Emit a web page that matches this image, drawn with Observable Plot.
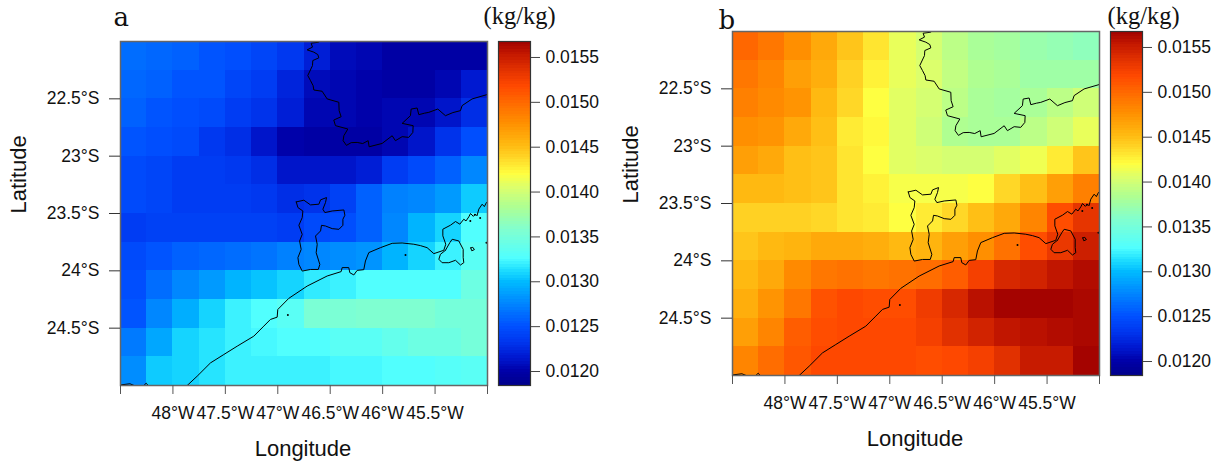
<!DOCTYPE html>
<html><head><meta charset="utf-8">
<script src="https://cdn.jsdelivr.net/npm/d3@7"></script>
<script src="https://cdn.jsdelivr.net/npm/@observablehq/plot@0.6"></script>
<style>
html,body{margin:0;padding:0;background:#fff;width:1224px;height:465px;overflow:hidden}
#root{position:relative;width:1224px;height:465px}
#root svg{position:absolute;overflow:visible;background:transparent}
</style></head><body><div id="root"></div>
<script>
// grid: 14 columns (west to east), 12 rows (north to south), 0.25 degree cells; values in 1e-5 kg/kg
const lons = [-48.5,-48.25,-48,-47.75,-47.5,-47.25,-47,-46.75,-46.5,-46.25,-46,-45.75,-45.5,-45.25];
const lats = [-22,-22.25,-22.5,-22.75,-23,-23.25,-23.5,-23.75,-24,-24.25,-24.5,-24.75];
const panelA = [
 [1265,1262,1258,1253,1250,1242,1234,1220,1208,1204,1197,1197,1197,1199],
 [1260,1257,1253,1253,1242,1236,1222,1208,1203,1200,1198,1198,1203,1215],
 [1257,1253,1250,1246,1236,1231,1219,1204,1204,1202,1204,1204,1213,1228],
 [1253,1250,1246,1234,1228,1213,1202,1197,1197,1199,1203,1213,1231,1250],
 [1246,1242,1238,1236,1234,1228,1214,1214,1214,1219,1236,1247,1257,1277],
 [1246,1242,1238,1238,1236,1233,1229,1232,1240,1258,1273,1277,1286,1306],
 [1236,1240,1240,1240,1240,1240,1238,1246,1250,1258,1277,1296,1310,1328],
 [1247,1253,1258,1260,1265,1268,1273,1277,1280,1283,1296,1310,1322,1333],
 [1250,1265,1277,1286,1298,1304,1310,1318,1322,1326,1328,1328,1328,1345],
 [1253,1277,1293,1310,1320,1328,1332,1355,1355,1357,1358,1357,1350,1352],
 [1270,1290,1308,1314,1320,1323,1328,1328,1334,1334,1338,1344,1345,1350],
 [1280,1305,1310,1316,1320,1320,1321,1321,1323,1324,1326,1328,1330,1334]
];
const panelB = [
 [1499,1490,1476,1460,1445,1433,1412,1402,1390,1380,1378,1372,1370,1365],
 [1492,1482,1466,1458,1441,1425,1410,1404,1394,1384,1381,1376,1376,1374],
 [1486,1480,1472,1453,1437,1420,1407,1402,1390,1381,1378,1382,1390,1398],
 [1476,1472,1460,1450,1428,1423,1407,1399,1384,1381,1381,1390,1400,1412],
 [1466,1462,1450,1445,1432,1420,1408,1404,1403,1401,1407,1414,1428,1445],
 [1453,1452,1449,1445,1433,1425,1416,1418,1418,1420,1437,1449,1466,1486],
 [1441,1441,1441,1437,1433,1428,1421,1428,1437,1450,1462,1482,1514,1534],
 [1445,1453,1456,1460,1460,1457,1453,1456,1466,1476,1495,1514,1530,1548],
 [1453,1460,1480,1490,1494,1492,1494,1496,1505,1525,1541,1545,1555,1560],
 [1457,1474,1492,1513,1518,1516,1514,1528,1541,1556,1566,1568,1565,1564],
 [1466,1482,1505,1514,1518,1518,1517,1525,1536,1544,1554,1556,1560,1564],
 [1482,1496,1510,1518,1518,1518,1518,1516,1519,1525,1537,1550,1552,1566]
];
const colorDomain = [0.011844,0.015678];
const colorStops = [.01184,.01200,.01215,.01234,.01250,.01280,.01300,.01313,.01326,.01357,.01384,.01403,.01420,.01437,.01453,.01476,.01499,.01518,.01537,.01553,.01568];
const colorList = ["#00008B","#0000A8","#0018D0","#0038F0","#0050FF","#0090FF","#00BBFF","#20E0FF","#50FFFF","#80FFD0","#B0FF90","#D8FF70","#FFFF40","#FFD828","#FFB810","#FF9000","#FF6A00","#FF4800","#E03000","#C41800","#A00000"];
const barTicks = [.012,.0125,.013,.0135,.014,.0145,.015,.0155];
const lonTicks = [-48.5,-48,-47.5,-47,-46.5,-46,-45.5,-45];
const latTicks = [-22.5,-23,-23.5,-24,-24.5];

const stateLine = [[-46.609,-22],[-46.609,-22.006],[-46.682,-22.015],[-46.669,-22.049],[-46.720,-22.073],[-46.656,-22.093],[-46.618,-22.114],[-46.609,-22.143],[-46.666,-22.166],[-46.669,-22.210],[-46.714,-22.297],[-46.688,-22.341],[-46.663,-22.385],[-46.656,-22.423],[-46.577,-22.434],[-46.529,-22.501],[-46.418,-22.530],[-46.415,-22.603],[-46.396,-22.656],[-46.466,-22.685],[-46.450,-22.734],[-46.332,-22.763],[-46.370,-22.822],[-46.377,-22.865],[-46.345,-22.906],[-46.300,-22.882],[-46.243,-22.880],[-46.190,-22.890],[-46.138,-22.865],[-46.129,-22.918],[-46.005,-22.889],[-45.909,-22.822],[-45.878,-22.865],[-45.814,-22.830],[-45.751,-22.836],[-45.712,-22.793],[-45.709,-22.734],[-45.814,-22.714],[-45.735,-22.647],[-45.728,-22.589],[-45.671,-22.580],[-45.655,-22.638],[-45.600,-22.625],[-45.560,-22.618],[-45.474,-22.589],[-45.401,-22.647],[-45.330,-22.620],[-45.258,-22.603],[-45.242,-22.559],[-45.147,-22.501],[-45.004,-22.463]];
const cityLine = [[-46.824,-23.399],[-46.751,-23.384],[-46.688,-23.425],[-46.608,-23.419],[-46.592,-23.381],[-46.535,-23.361],[-46.545,-23.405],[-46.570,-23.463],[-46.551,-23.492],[-46.481,-23.478],[-46.370,-23.469],[-46.360,-23.515],[-46.379,-23.550],[-46.379,-23.603],[-46.417,-23.638],[-46.481,-23.632],[-46.545,-23.609],[-46.583,-23.603],[-46.592,-23.652],[-46.640,-23.696],[-46.624,-23.769],[-46.634,-23.842],[-46.599,-23.944],[-46.614,-23.988],[-46.688,-23.988],[-46.767,-24.002],[-46.799,-23.944],[-46.808,-23.885],[-46.777,-23.813],[-46.792,-23.740],[-46.767,-23.682],[-46.799,-23.603],[-46.767,-23.536],[-46.761,-23.478],[-46.808,-23.448],[-46.824,-23.399]];
const coastLine = [[-47.864,-25],[-47.769,-24.919],[-47.642,-24.803],[-47.515,-24.730],[-47.387,-24.657],[-47.229,-24.570],[-47.133,-24.482],[-47.070,-24.424],[-47.006,-24.404],[-47.000,-24.337],[-46.895,-24.240],[-46.720,-24.133],[-46.529,-24.045],[-46.396,-24.007],[-46.386,-23.972],[-46.323,-23.972],[-46.313,-24.016],[-46.275,-24.036],[-46.243,-23.996],[-46.180,-23.990],[-46.164,-23.914],[-46.132,-23.841],[-46.021,-23.798],[-45.909,-23.760],[-45.814,-23.757],[-45.703,-23.768],[-45.640,-23.780],[-45.576,-23.798],[-45.512,-23.850],[-45.417,-23.821],[-45.398,-23.768],[-45.426,-23.695],[-45.426,-23.637],[-45.353,-23.602],[-45.305,-23.570],[-45.264,-23.593],[-45.226,-23.550],[-45.205,-23.565],[-45.178,-23.529],[-45.162,-23.500],[-45.135,-23.525],[-45.115,-23.506],[-45.100,-23.520],[-45.083,-23.462],[-45.051,-23.419],[-45.030,-23.440],[-45.010,-23.404]];
const bayLine = [[-45.401,-23.821],[-45.449,-23.856],[-45.464,-23.899],[-45.433,-23.929],[-45.369,-23.929],[-45.305,-23.908],[-45.258,-23.949],[-45.226,-23.929],[-45.232,-23.885],[-45.232,-23.812],[-45.274,-23.739],[-45.337,-23.725],[-45.359,-23.754],[-45.401,-23.821]];
const southA = [[-48.5,-24.995],[-48.41,-24.985],[-48.37,-25]];
const southB = [[-48.278,-25],[-48.255,-24.98],[-48.236,-25]];
const isletRing = [[-45.160,-23.800],[-45.140,-23.795],[-45.125,-23.815],[-45.150,-23.825],[-45.160,-23.800]];
const islets = [[-45.782,-23.861],[-45.010,-23.754],[-46.904,-24.386],[-45.120,-23.510],[-45.164,-23.565],[-45.070,-23.540]];

const W = 367, H = 344;
const bandCount = 128;
const palette = d3.range(bandCount).map(i => {
  const ramp = d3.scaleLinear(colorStops, colorList);
  return ramp(colorDomain[0] + (i + .5) * (colorDomain[1] - colorDomain[0]) / bandCount);
});
const colorScale = {type:"quantize", domain:colorDomain, range:palette};
const sans = "'Liberation Sans',Arial,sans-serif", serif = "'Liberation Serif',serif", tagFont = "'DejaVu Serif',serif";
const root = document.getElementById("root");
const place = (svg, left, top) => { svg.style.left = left + "px"; svg.style.top = top + "px"; root.appendChild(svg); };

function panel(values, tag, left, top, tagDx, tagDy) {
  const cells = [];
  values.forEach((row, r) => row.forEach((v, c) => cells.push({x1:lons[c], x2:lons[c] + .25, y1:lats[r], y2:lats[r] - .25, v:v / 1e5})));
  const coast = {x:"0", y:"1", stroke:"#000", strokeWidth:1, clip:"frame", strokeLinejoin:"round"};
  place(Plot.plot({
    width:120 + W + 10, height:H + 41 + 70, marginLeft:120, marginRight:10, marginTop:41, marginBottom:70,
    style:{fontFamily:sans, fontSize:"17.5px", color:"#111", background:"transparent"},
    x:{domain:[-48.5,-45]}, y:{domain:[-25,-22]}, color:colorScale,
    marks:[
      Plot.rect(cells, {x1:"x1", x2:"x2", y1:"y1", y2:"y2", fill:"v", shapeRendering:"crispEdges"}),
      Plot.line(stateLine, coast), Plot.line(cityLine, coast), Plot.line(coastLine, coast),
      Plot.line(bayLine, coast), Plot.line(southA, coast), Plot.line(southB, coast), Plot.line(isletRing, coast),
      Plot.dot(islets, {x:"0", y:"1", r:1, fill:"#000"}),
      Plot.frame({stroke:"#666", strokeWidth:1.5}),
      Plot.axisX({ticks:lonTicks, tickSize:9, tickPadding:12, label:null, stroke:"#555", fontSize:17.5, fill:"#111",
        tickFormat:d => (d === -48.5 || d === -45) ? "" : `${-d}°W`}),
      Plot.axisY({ticks:latTicks, tickSize:11, tickPadding:10, label:null, stroke:"#333", fontSize:17.5, fill:"#111",
        tickFormat:d => `${-d}°S`}),
      Plot.text(["Longitude"], {frameAnchor:"bottom", dx:-1, dy:63, lineAnchor:"middle", fontSize:22, fill:"#111"}),
      Plot.text(["Latitude"], {frameAnchor:"left", dx:-102, rotate:-90, fontSize:22, fill:"#111"}),
      Plot.text([tag], {frameAnchor:"top-left", dx:tagDx, dy:tagDy, lineAnchor:"bottom", textAnchor:"start", fontFamily:tagFont, fontSize:26, fill:"#111"})
    ]
  }), left, top);
}

function colorBar(left, top) {
  const bands = d3.range(bandCount).map(i => {
    const s = (colorDomain[1] - colorDomain[0]) / bandCount;
    return {y1:colorDomain[0] + i * s, y2:colorDomain[0] + (i + 1) * s, v:colorDomain[0] + (i + .5) * s};
  });
  place(Plot.plot({
    width:100, height:H + 41 + 20, marginLeft:0, marginRight:68, marginTop:41, marginBottom:20,
    style:{fontFamily:sans, fontSize:"17.5px", color:"#111", background:"transparent"},
    x:{domain:[0,1], axis:null}, y:{domain:colorDomain, axis:null}, color:colorScale,
    marks:[
      Plot.rect(bands, {x1:0, x2:1, y1:"y1", y2:"y2", fill:"v", shapeRendering:"crispEdges"}),
      Plot.frame({stroke:"#333", strokeWidth:1.2}),
      Plot.axisY({anchor:"right", ticks:barTicks, tickSize:9, tickPadding:6, label:null, stroke:"#444", fontSize:17.5, fill:"#111", tickFormat:d => d.toFixed(4)})
    ]
  }), left, top);
}
function unit(left, top, baseline) {
  place(Plot.plot({
    width:90, height:32, margin:0, style:{background:"transparent"},
    x:{domain:[0,1], axis:null}, y:{domain:[0,1], axis:null},
    marks:[Plot.text(["(kg/kg)"], {frameAnchor:"top-left", dy:baseline, lineAnchor:"bottom", textAnchor:"start", fontFamily:serif, fontSize:24.5, fill:"#111"})]
  }), left, top);
}
panel(panelA, "a", 0, 0, -7, -16);
colorBar(498, 0);
unit(483, 0, 23);
panel(panelB, "b", 612, -10, -14, -3);
colorBar(1110, -10);
unit(1107, 0, 23);
</script></body></html>
